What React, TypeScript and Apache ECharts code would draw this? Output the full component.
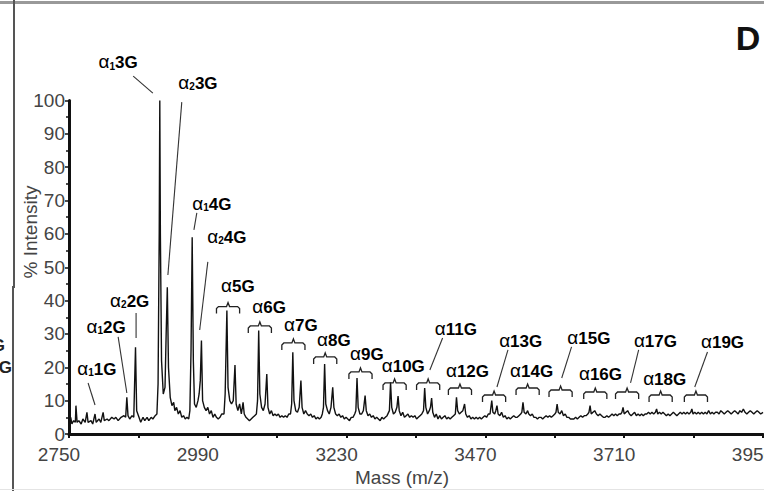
import React, { useEffect, useRef } from "react";
import * as echarts from "echarts";

// Mass axis: ticks every 120, labels every 240
const massMin = 2750;
const massMax = 3950;
const massLabelStep = 240;
const intensityTicks = { min: 0, max: 100, step: 10 };

// Spectrum profile [m/z, % intensity]
const spectrum: [number, number][] = [
  [2750, 3.5], [2753, 5], [2755, 3], [2758, 4], [2761, 3.5], [2762, 8.5], [2764, 3.5], [2767, 4], [2771, 3], [2774, 4.5],
  [2778, 3.5], [2781, 6.5], [2783, 3.5], [2788, 4], [2791, 3], [2795, 6], [2797, 3.5], [2802, 4.5], [2805, 3.5], [2809, 6.5],
  [2811, 4], [2816, 4.5], [2819, 4], [2824, 5], [2828, 4.5], [2831, 5], [2835, 4], [2840, 5], [2845, 5.5], [2848, 5],
  [2850, 11], [2852, 5.5], [2855, 4.5], [2859, 5.5], [2862, 5], [2865, 26], [2867, 7], [2871, 5], [2874, 3.5], [2878, 5],
  [2881, 4], [2885, 5], [2888, 4], [2892, 5], [2895, 4.5], [2899, 5.5], [2902, 6],
  [2904, 15], [2906, 60], [2907, 100], [2908, 60], [2910, 22], [2913, 12], [2916, 14], [2918, 30], [2920, 44], [2922, 20],
  [2925, 11], [2928, 8.5], [2931, 9.5], [2933, 7], [2936, 8], [2939, 6], [2942, 7], [2945, 5], [2948, 5.5], [2951, 4.5],
  [2954, 5], [2957, 4.5],
  [2959, 7], [2961, 25], [2963, 59], [2965, 22], [2967, 9], [2970, 8], [2973, 10], [2975, 12], [2977, 16], [2979, 28],
  [2981, 10], [2984, 8], [2987, 7], [2990, 8], [2993, 6], [2996, 7], [2999, 5], [3002, 6], [3005, 5], [3008, 4.5],
  [3011, 5], [3014, 6], [3018, 6],
  [3020, 12], [3023, 37], [3025, 14], [3028, 10], [3031, 9], [3034, 10], [3037, 20.7], [3039, 9], [3042, 7], [3045, 9],
  [3048, 6], [3051, 9.5], [3053, 6], [3056, 5], [3059, 4.5], [3062, 4], [3065, 4.5], [3068, 5], [3071, 5.5], [3074, 6],
  [3076, 10], [3078, 31], [3080, 12], [3083, 8], [3086, 7], [3089, 9], [3092, 18], [3094, 8], [3097, 6], [3100, 7],
  [3103, 5.5], [3106, 6], [3109, 5.5], [3112, 6], [3115, 5], [3118, 5.5], [3121, 5], [3124, 5.5], [3127, 5], [3130, 6],
  [3133, 6],
  [3135, 9], [3137, 24.5], [3139, 10], [3142, 7], [3145, 6.5], [3148, 8], [3151, 16], [3153, 8], [3156, 6], [3159, 7],
  [3162, 6], [3165, 5.5], [3168, 6], [3171, 5], [3174, 5.5], [3177, 4.5], [3180, 5], [3183, 4.5], [3186, 5], [3188, 6],
  [3190, 8], [3192, 21], [3194, 9], [3197, 7], [3200, 6], [3203, 8], [3206, 14], [3208, 8], [3211, 6], [3214, 5.5],
  [3217, 6], [3220, 5], [3223, 5.5], [3226, 4.5], [3229, 5], [3232, 4.5], [3235, 4], [3238, 5], [3241, 5], [3244, 6],
  [3246, 7], [3248, 16.8], [3250, 8], [3253, 6], [3256, 6], [3259, 7], [3262, 11.5], [3264, 7], [3267, 5.5], [3270, 6],
  [3273, 5], [3276, 5.5], [3279, 4.5], [3282, 5], [3285, 4.5], [3288, 4], [3291, 5], [3294, 4.5], [3297, 5], [3300, 5.5],
  [3304, 7], [3306, 15.5], [3308, 8], [3311, 6], [3314, 6.5], [3317, 8], [3319, 11.4], [3321, 7], [3324, 5.5], [3327, 6.5],
  [3330, 5], [3333, 5.5], [3336, 6], [3339, 5], [3342, 5.5], [3345, 5], [3348, 5.5], [3351, 4.5], [3354, 5], [3357, 5.5],
  [3360, 6],
  [3363, 7], [3365, 13.8], [3367, 8], [3370, 6], [3373, 7], [3375, 8], [3377, 10.8], [3379, 6.5], [3382, 5], [3385, 6],
  [3388, 4.5], [3391, 5.5], [3394, 4.5], [3397, 5], [3400, 5.5], [3403, 4.5], [3406, 5], [3409, 4.5], [3412, 5], [3415, 5.5],
  [3418, 6],
  [3420, 11], [3422, 7], [3425, 6], [3428, 6.5], [3431, 7], [3434, 9], [3436, 6], [3439, 5], [3442, 5.5], [3445, 4.5],
  [3448, 5], [3451, 4.5], [3454, 5], [3457, 4.5], [3460, 5], [3463, 4.5], [3466, 5], [3469, 5.5], [3472, 5], [3475, 6],
  [3478, 6],
  [3481, 10], [3483, 6.5], [3486, 6], [3488, 7], [3490, 8.5], [3492, 6], [3495, 5.5], [3498, 6.5], [3501, 5], [3504, 5.5],
  [3507, 4.5], [3510, 5], [3513, 4.5], [3516, 5], [3519, 5.5], [3522, 5], [3525, 5], [3528, 5.5], [3531, 6], [3533, 6.5],
  [3535, 9.5], [3537, 6.5], [3540, 6], [3543, 7], [3545, 6], [3548, 5.5], [3551, 6], [3554, 5], [3557, 5], [3560, 4.5],
  [3563, 5], [3566, 5], [3569, 4.5], [3572, 5], [3575, 5.5], [3578, 5], [3581, 5.5], [3584, 5], [3587, 5.5], [3590, 6],
  [3592, 6.5],
  [3594, 9], [3596, 6.5], [3599, 6], [3602, 7], [3605, 5.5], [3608, 6], [3611, 5], [3614, 5], [3617, 4.5], [3620, 4.5],
  [3623, 4.5], [3626, 5], [3629, 4.5], [3632, 5], [3635, 5.5], [3638, 5], [3641, 5.5], [3644, 5.5], [3647, 6], [3649, 6.5],
  [3651, 8.5], [3653, 6], [3656, 6.5], [3659, 7], [3662, 6], [3665, 5.5], [3668, 6], [3671, 5.5], [3674, 5], [3677, 5],
  [3680, 5.5], [3683, 5], [3686, 5.5], [3689, 6], [3692, 5.5], [3695, 6], [3698, 5.5], [3701, 6], [3704, 6], [3706, 6.5],
  [3708, 8], [3710, 6], [3713, 6.5], [3716, 7], [3719, 6], [3722, 5.5], [3725, 6], [3728, 6.5], [3731, 5.5], [3734, 6],
  [3737, 5.5], [3740, 6], [3743, 5.5], [3746, 6], [3749, 6], [3752, 6.5], [3755, 6], [3758, 6.5], [3761, 6], [3764, 6.5],
  [3766, 7.5], [3768, 6], [3771, 6.5], [3774, 6], [3777, 6.5], [3780, 6], [3783, 5.5], [3786, 6], [3789, 5.5], [3792, 6],
  [3795, 6.5], [3798, 6], [3801, 5.5], [3804, 6], [3807, 6.5], [3810, 6], [3813, 6.5], [3816, 6], [3819, 6.5], [3822, 6],
  [3825, 6.5],
  [3827, 7.5], [3829, 6], [3832, 6.5], [3835, 6], [3838, 6.5], [3841, 6], [3844, 6.5], [3847, 6], [3850, 6.5], [3853, 6],
  [3856, 7], [3859, 6], [3862, 6.5], [3865, 6], [3868, 6.5], [3871, 6.5], [3874, 6], [3877, 7], [3880, 6.5], [3883, 6],
  [3886, 6.5], [3889, 7], [3892, 6.5], [3895, 6], [3898, 6.5], [3901, 7], [3904, 6.5], [3907, 6], [3910, 7], [3913, 6.5],
  [3916, 7.5], [3919, 6.5], [3922, 6], [3925, 6.5], [3928, 7], [3931, 6.5], [3934, 6], [3937, 6.5], [3940, 7], [3943, 6.5],
  [3946, 6], [3950, 6.5],
];

// Peak annotations (label centre in data coordinates)
const labelSubs = ["1", "1", "2", "1", "2", "1", "2", "", "", "", "", "", "", "", "", "", "", "", "", "", "", ""];
const labelTexts = ["1G", "2G", "2G", "3G", "3G", "4G", "4G", "5G", "6G", "7G", "8G", "9G", "10G", "11G", "12G", "13G", "14G", "15G", "16G", "17G", "18G", "19G"];
const labelMass = [2798, 2814, 2855, 2835, 2973, 2997, 3023, 3042, 3096, 3151, 3208, 3265, 3328, 3419, 3439, 3531, 3550, 3649, 3669, 3764, 3780, 3880];
const labelIntensity = [19.2, 31.8, 39.6, 111.2, 105, 68.7, 58.8, 44.1, 37.8, 32.4, 27.9, 23.7, 20.1, 31.2, 18.6, 27.6, 18.6, 28.5, 17.7, 27.6, 16.2, 27.3];

// Leader lines [m1, v1, m2, v2]
const leaders: [number, number, number, number][] = [
  [2783, 15.3, 2795, 8.7],
  [2835, 29.1, 2850, 12.3],
  [2866, 36.3, 2866, 28.8],
  [2861, 107.3, 2895, 102.2],
  [2945, 99.5, 2921, 47.7],
  [2971, 66.3, 2966, 61.2],
  [2990, 51.6, 2976, 31.2],
  [3396, 28.8, 3374, 19.2],
  [3509, 25.2, 3490, 14.1],
  [3619, 26.1, 3602, 16.8],
  [3735, 25.2, 3721, 15.3],
  [3854, 24.6, 3832, 14.1],
];

// Cluster brackets: centre m/z and intensity of the bar
const bracketMass = [3025, 3080, 3138, 3193, 3254, 3313, 3371, 3426, 3485, 3543, 3600, 3660, 3715, 3773, 3834];
const bracketIntensity = [38.2, 32.4, 27.3, 23.1, 18.6, 15.3, 15.3, 13.8, 11.7, 13.8, 13.2, 12.6, 12.6, 11.7, 11.7];
const bracketHalfWidth = 20;

const FONT = "'Liberation Sans', Arial, sans-serif";

export default function App() {
  const ref = useRef<HTMLDivElement>(null);

  useEffect(() => {
    if (!ref.current) return;
    const chart = echarts.init(ref.current, null, { renderer: "svg" });

    const rich = {
      a: { fontFamily: FONT, fontSize: 19, color: "#555", lineHeight: 16, verticalAlign: "bottom" },
      s: { fontFamily: FONT, fontSize: 10, fontWeight: "bold", color: "#333", lineHeight: 4, verticalAlign: "bottom" },
      b: { fontFamily: FONT, fontSize: 17, fontWeight: "bold", color: "#222", lineHeight: 16, verticalAlign: "bottom" },
    };

    const option: any = {
      animation: false,
      backgroundColor: "#fff",
      grid: { left: 69, right: 1, top: 100.5, bottom: 57, containLabel: false, outerBoundsMode: "none" },
      xAxis: {
        type: "value",
        min: massMin,
        max: massMax,
        interval: massLabelStep,
        axisLine: { lineStyle: { color: "#111", width: 3 } },
        axisTick: { length: 4, lineStyle: { color: "#111", width: 2 } },
        minorTick: { show: true, splitNumber: 2, length: 4, lineStyle: { color: "#111", width: 2 } },
        axisLabel: {
          fontFamily: FONT, fontSize: 19, color: "#444", margin: 11, padding: [0, 20, 0, 0],
          formatter: (v: number) => String(v),
          hideOverlap: false,
        },
        splitLine: { show: false },
        minorSplitLine: { show: false },
      },
      yAxis: {
        type: "value",
        min: intensityTicks.min,
        max: intensityTicks.max,
        interval: intensityTicks.step,
        axisLine: { show: true, lineStyle: { color: "#111", width: 3 } },
        axisTick: { show: true, length: 4, lineStyle: { color: "#111", width: 1.5 } },
        minorTick: { show: true, splitNumber: 2, length: 3, lineStyle: { color: "#111", width: 1.5 } },
        axisLabel: { fontFamily: FONT, fontSize: 19, color: "#444", margin: 4 },
        splitLine: { show: false },
        minorSplitLine: { show: false },
      },
      series: [
        {
          type: "line",
          data: spectrum,
          showSymbol: false,
          symbol: "none",
          lineStyle: { color: "#111", width: 1.4 },
          clip: true,
          z: 3,
        },
        {
          type: "custom",
          data: leaders,
          encode: { x: [0, 2], y: [1, 3] },
          clip: false,
          renderItem: (_p: any, api: any) => {
            const a = api.coord([api.value(0), api.value(1)]);
            const b = api.coord([api.value(2), api.value(3)]);
            return {
              type: "line",
              shape: { x1: a[0], y1: a[1], x2: b[0], y2: b[1] },
              style: { stroke: "#333", lineWidth: 1.1, fill: "none" },
            };
          },
          z: 4,
        },
        {
          type: "custom",
          data: bracketMass.map((m, i) => [m, bracketIntensity[i]]),
          encode: { x: 0, y: 1 },
          clip: false,
          renderItem: (_p: any, api: any) => {
            const m = api.value(0);
            const v = api.value(1);
            const c = api.coord([m, v]);
            const l = api.coord([m - bracketHalfWidth, v])[0];
            const r = api.coord([m + bracketHalfWidth, v])[0];
            const y = c[1];
            return {
              type: "polyline",
              shape: {
                points: [
                  [l, y + 7], [l, y + 2], [l + 2, y], [c[0] - 1.5, y], [c[0], y - 4],
                  [c[0] + 1.5, y], [r - 2, y], [r, y + 2], [r, y + 7],
                ],
              },
              style: { stroke: "#222", lineWidth: 1.3, fill: "none" },
            };
          },
          z: 4,
        },
        {
          type: "custom",
          data: labelMass.map((m, i) => [m, labelIntensity[i], i]),
          encode: { x: 0, y: 1 },
          clip: false,
          renderItem: (params: any, api: any) => {
            const i = params.dataIndex;
            const p = api.coord([api.value(0), api.value(1)]);
            const sub = labelSubs[i];
            const text = sub ? `{a|α}{s|${sub}}{b|${labelTexts[i]}}` : `{a|α}{b|${labelTexts[i]}}`;
            return {
              type: "text",
              x: p[0],
              y: p[1],
              style: {
                text,
                rich,
                align: "center",
                verticalAlign: "middle",
                textAlign: "center",
                textVerticalAlign: "middle",
              },
            };
          },
          z: 5,
        },
      ],
      graphic: [
        { type: "line", shape: { x1: 0, y1: 2.5, x2: 764, y2: 2.5 }, style: { stroke: "#999", lineWidth: 3 } },
        { type: "line", shape: { x1: 14, y1: 0, x2: 14, y2: 288 }, style: { stroke: "#555", lineWidth: 2 } },
        { type: "line", shape: { x1: 13, y1: 286, x2: 13, y2: 491 }, style: { stroke: "#555", lineWidth: 2 } },
        { type: "line", shape: { x1: 0, y1: 489.5, x2: 764, y2: 489.5 }, style: { stroke: "#e4e4e4", lineWidth: 1 } },
        {
          type: "text", x: 5, y: 345,
          style: { text: "G", font: `bold 17px ${FONT}`, fill: "#222", textAlign: "right", textVerticalAlign: "middle", align: "right", verticalAlign: "middle" },
        },
        {
          type: "text", x: 12, y: 367,
          style: { text: "G", font: `bold 17px ${FONT}`, fill: "#222", textAlign: "right", textVerticalAlign: "middle", align: "right", verticalAlign: "middle" },
        },
        {
          type: "text", x: 30, y: 232, rotation: Math.PI / 2,
          style: { text: "% Intensity", font: `19px ${FONT}`, fill: "#444", textAlign: "center", textVerticalAlign: "middle", align: "center", verticalAlign: "middle" },
        },
        {
          type: "text", x: 402, y: 477,
          style: { text: "Mass (m/z)", font: `19px ${FONT}`, fill: "#444", textAlign: "center", textVerticalAlign: "middle", align: "center", verticalAlign: "middle" },
        },
        {
          type: "text", x: 748, y: 38,
          style: { text: "D", font: `bold 34px ${FONT}`, fill: "#111", textAlign: "center", textVerticalAlign: "middle", align: "center", verticalAlign: "middle" },
        },
      ],
    };

    chart.setOption(option);
    return () => chart.dispose();
  }, []);

  return (
    <div
      ref={ref}
      style={{ position: "absolute", left: 0, top: 0, width: 764, height: 491, background: "#fff" }}
    />
  );
}
